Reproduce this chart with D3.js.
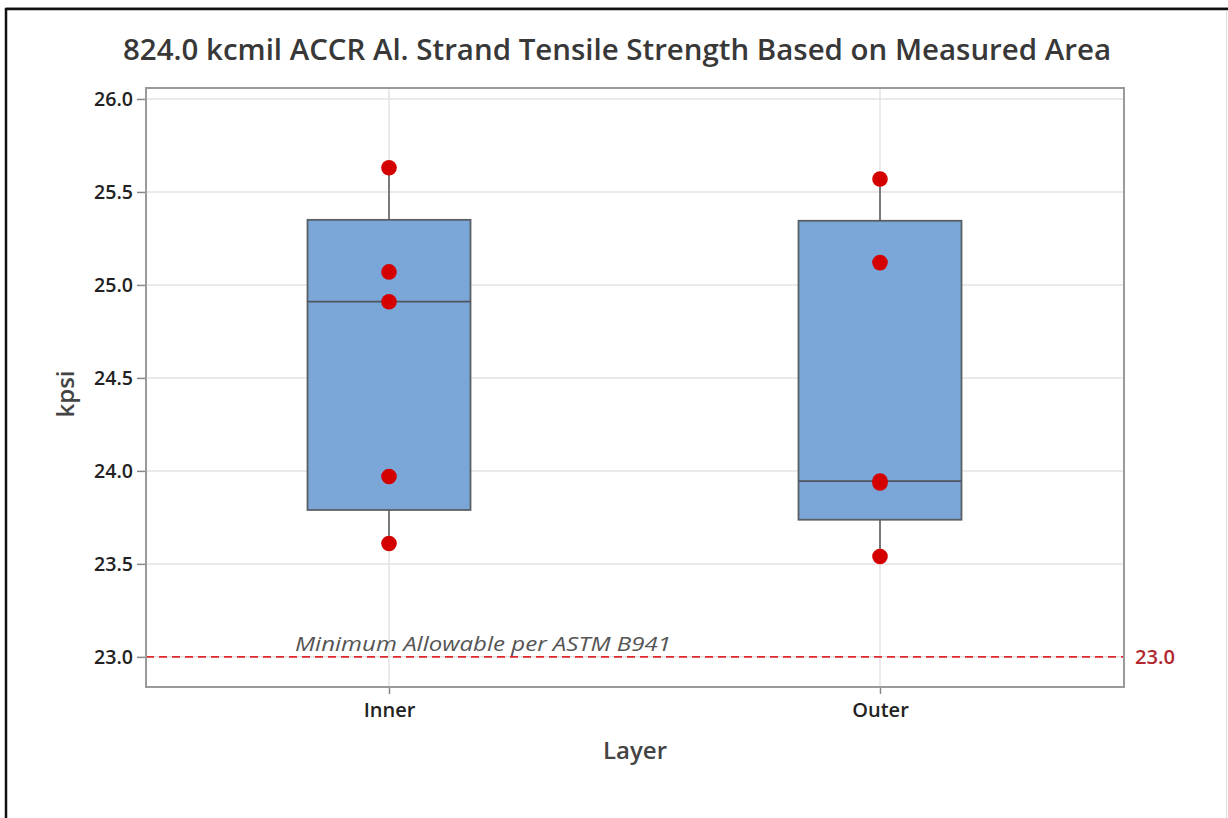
<!DOCTYPE html>
<html>
<head>
<meta charset="utf-8">
<script src="https://cdn.jsdelivr.net/npm/d3@7"></script>
<style>
  html, body { margin: 0; padding: 0; background: #fff; }
  svg { display: block; }
  text { font-family: "Open Sans", "Noto Sans", sans-serif; }
</style>
</head>
<body>
<svg id="chart" width="1228" height="818"></svg>
<script>
// Tensile strength (kpsi) of individual Al strands, grouped by layer
const layers = ["Inner", "Outer"];
const innerValues = [25.63, 25.07, 24.91, 23.97, 23.61];
const outerValues = [25.57, 25.12, 23.945, 23.935, 23.54];
const yTicks = [23.0, 23.5, 24.0, 24.5, 25.0, 25.5, 26.0];
const minAllowable = 23.0;
const refLabel = "Minimum Allowable per ASTM B941";
const title = "824.0 kcmil ACCR Al. Strand Tensile Strength Based on Measured Area";

const seriesByLayer = [innerValues, outerValues];

const svg = d3.select("#chart");
const W = 1228, H = 818;
const plot = { left: 146, right: 1124, top: 88, bottom: 687 };

// Outer frame
svg.append("line").attr("x1", 6).attr("x2", W).attr("y1", 7.5).attr("y2", 7.5)
  .attr("stroke", "#bbb").attr("stroke-width", 1);
svg.append("path")
  .attr("d", `M6,${H + 5} V9 H${W + 5}`)
  .attr("fill", "none").attr("stroke", "#111").attr("stroke-width", 2.5);
svg.append("line").attr("x1", 1226.5).attr("x2", 1226.5).attr("y1", 10).attr("y2", H)
  .attr("stroke", "#ddd").attr("stroke-width", 1);

const y = d3.scaleLinear().domain([22.838, 26.059]).range([plot.bottom, plot.top]);
const x = d3.scalePoint().domain(layers).range([389, 880]);
const boxW = 163;

// Gridlines
const grid = svg.append("g");
grid.selectAll("line.h").data(yTicks).join("line")
  .attr("x1", plot.left).attr("x2", plot.right)
  .attr("y1", d => y(d)).attr("y2", d => y(d))
  .attr("stroke", "#e3e3e3").attr("stroke-width", 1.5);
grid.selectAll("line.v").data(layers).join("line")
  .attr("x1", d => x(d)).attr("x2", d => x(d))
  .attr("y1", plot.top).attr("y2", plot.bottom)
  .attr("stroke", "#e3e3e3").attr("stroke-width", 1.5);

// Quartiles by (n+1)p interpolation
function quant(sorted, p) {
  const pos = (sorted.length + 1) * p;
  const lo = Math.floor(pos), frac = pos - lo;
  if (lo < 1) return sorted[0];
  if (lo >= sorted.length) return sorted[sorted.length - 1];
  return sorted[lo - 1] + frac * (sorted[lo] - sorted[lo - 1]);
}

const boxes = svg.append("g");
layers.forEach((name, i) => {
  const vals = seriesByLayer[i].slice().sort(d3.ascending);
  const q1 = quant(vals, 0.25), med = quant(vals, 0.5), q3 = quant(vals, 0.75);
  const lo = vals[0], hi = vals[vals.length - 1];
  const cx = x(name);
  const g = boxes.append("g");
  g.append("line").attr("x1", cx).attr("x2", cx).attr("y1", y(hi)).attr("y2", y(q3))
    .attr("stroke", "#555").attr("stroke-width", 1.5);
  g.append("line").attr("x1", cx).attr("x2", cx).attr("y1", y(q1)).attr("y2", y(lo))
    .attr("stroke", "#555").attr("stroke-width", 1.5);
  g.append("rect").attr("x", cx - boxW / 2).attr("width", boxW)
    .attr("y", y(q3)).attr("height", y(q1) - y(q3))
    .attr("fill", "#7BA6D8").attr("stroke", "#5a5f66").attr("stroke-width", 1.8);
  g.append("line").attr("x1", cx - boxW / 2).attr("x2", cx + boxW / 2)
    .attr("y1", y(med)).attr("y2", y(med))
    .attr("stroke", "#4f555c").attr("stroke-width", 1.8);
});

// Individual values
const pts = svg.append("g");
layers.forEach((name, i) => {
  pts.selectAll(null).data(seriesByLayer[i]).join("circle")
    .attr("cx", x(name)).attr("cy", d => y(d)).attr("r", 7.8)
    .attr("fill", "#D40000");
});

// Reference line
svg.append("line")
  .attr("x1", plot.left).attr("x2", plot.right)
  .attr("y1", y(minAllowable)).attr("y2", y(minAllowable))
  .attr("stroke", "#E0282E").attr("stroke-width", 1.8)
  .attr("stroke-dasharray", "8,5");
svg.append("text")
  .attr("x", 295).attr("y", y(minAllowable) - 6)
  .attr("font-size", 20).attr("font-style", "italic").attr("fill", "#555")
  .attr("textLength", 376).attr("lengthAdjust", "spacingAndGlyphs")
  .text(refLabel);
svg.append("text")
  .attr("x", 1135).attr("y", y(minAllowable) + 7)
  .attr("font-size", 19).attr("font-weight", 600).attr("fill", "#B0282E")
  .attr("textLength", 40).attr("lengthAdjust", "spacingAndGlyphs")
  .text(d3.format(".1f")(minAllowable));

// Plot border
svg.append("rect")
  .attr("x", plot.left).attr("y", plot.top)
  .attr("width", plot.right - plot.left).attr("height", plot.bottom - plot.top)
  .attr("fill", "none").attr("stroke", "#9a9a9a").attr("stroke-width", 2);

// Y axis
const yAxis = svg.append("g").attr("transform", `translate(${plot.left - 1},0)`)
  .call(d3.axisLeft(y).tickValues(yTicks).tickFormat(d3.format(".1f")).tickSize(8).tickPadding(4));
yAxis.select(".domain").remove();
yAxis.selectAll(".tick line").attr("stroke", "#888").attr("stroke-width", 1.5);
yAxis.selectAll(".tick text").attr("font-size", 20).attr("font-weight", 600)
  .attr("fill", "#222").attr("font-family", "'Open Sans', sans-serif")
  .attr("textLength", 39).attr("lengthAdjust", "spacingAndGlyphs");

// X axis
const xAxis = svg.append("g").attr("transform", `translate(0,${plot.bottom + 1})`)
  .call(d3.axisBottom(x).tickSize(6).tickPadding(9));
xAxis.select(".domain").remove();
xAxis.selectAll(".tick line").attr("stroke", "#888").attr("stroke-width", 1.5);
xAxis.selectAll(".tick text").attr("font-size", 20).attr("font-weight", 600)
  .attr("fill", "#222").attr("font-family", "'Open Sans', sans-serif");

// Axis titles
svg.append("text")
  .attr("transform", "translate(74,394) rotate(-90)")
  .attr("text-anchor", "middle").attr("font-size", 24).attr("font-weight", 600)
  .attr("fill", "#444").text("kpsi");
svg.append("text")
  .attr("x", 635).attr("y", 759).attr("text-anchor", "middle")
  .attr("font-size", 24).attr("font-weight", 600).attr("fill", "#444").text("Layer");

// Title
svg.append("text")
  .attr("x", 617).attr("y", 60).attr("text-anchor", "middle")
  .attr("font-size", 28).attr("font-weight", 600).attr("fill", "#383838")
  .attr("textLength", 988).attr("lengthAdjust", "spacingAndGlyphs")
  .text(title);
</script>
</body>
</html>
